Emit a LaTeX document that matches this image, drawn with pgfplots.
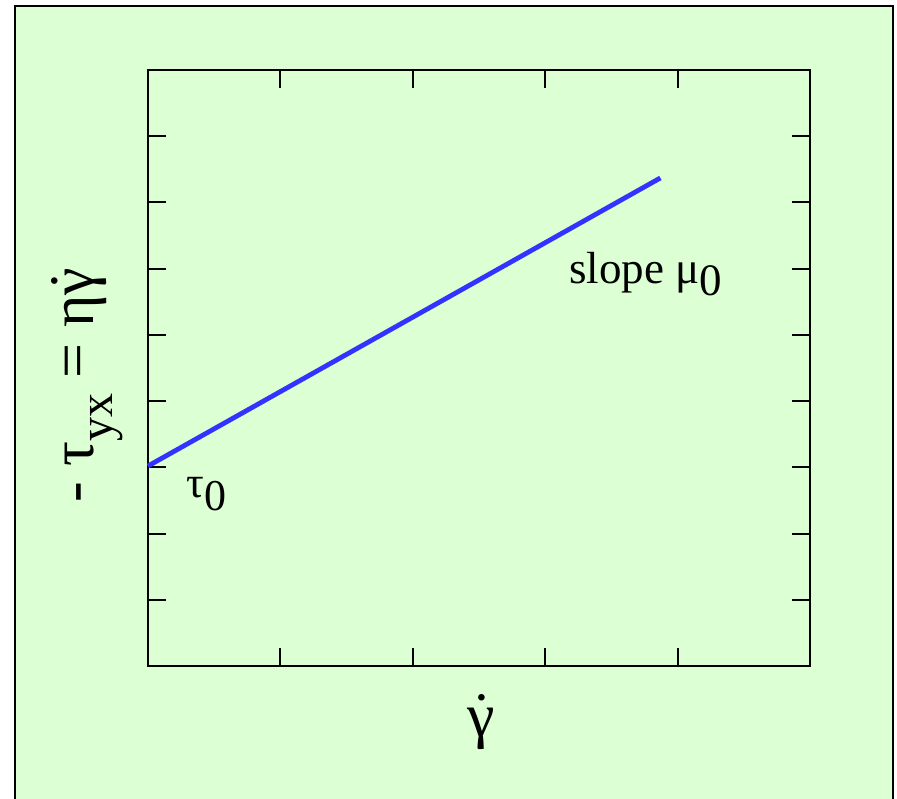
\documentclass[border=0pt]{standalone}
\usepackage{fontspec}
\setmainfont{Liberation Serif}
\usepackage{pgfplots}
\pgfplotsset{compat=1.18}

\definecolor{panelgreen}{RGB}{221,255,212}
\definecolor{lineblue}{RGB}{51,51,255}

% gamma with a dot above (shear rate)
\newcommand{\gdot}{\leavevmode\hbox{\ooalign{γ\cr\hidewidth\raisebox{0.02em}{˙}\hidewidth\cr}}}
% full-size lowered subscript, as in the original figure
\newcommand{\lowsub}[1]{\raisebox{-0.28em}{#1}}

\begin{document}
\begin{tikzpicture}
  % page size
  \useasboundingbox (0pt,0pt) rectangle (448.5pt,399pt);
  % green panel with frame
  \draw[line width=1pt, fill=panelgreen] (7.5pt,-3pt) rectangle (446.5pt,396pt);

  \begin{axis}[
    at={(74pt,66pt)}, anchor=south west,
    width=331pt, height=298pt, scale only axis,
    xmin=0, xmax=5, ymin=0, ymax=9,
    xtick={1,2,3,4}, ytick={1,2,3,4,5,6,7,8},
    xticklabels={}, yticklabels={},
    tick align=inside,
    major tick length=9pt,
    every tick/.style={black, line width=1pt},
    axis line style={line width=0.8pt},
    clip=false,
  ]
    % Bingham plastic: yield stress plus constant slope
    \addplot[lineblue, line width=2.4pt] coordinates {(0,3.02) (3.87,7.37)};

    \node[anchor=base west, font=\fontsize{22}{26}\selectfont]
      at (axis cs:0.24,2.54) {τ\lowsub{0}};
    \node[anchor=base west, font=\fontsize{22.5}{27}\selectfont]
      at (axis cs:3.13,5.78) {slope μ\lowsub{0}};

    % axis labels
    \node[anchor=base, font=\fontsize{31}{36}\selectfont]
      at (axis cs:2.52,-1.07) {\gdot};
    \node[anchor=base west, rotate=90, font=\fontsize{31}{36}\selectfont]
      at (axis cs:-0.41,2.36)
      {- τ\raisebox{-0.3em}{\fontsize{24}{28}\selectfont yx} = η\gdot};
  \end{axis}
\end{tikzpicture}
\end{document}
